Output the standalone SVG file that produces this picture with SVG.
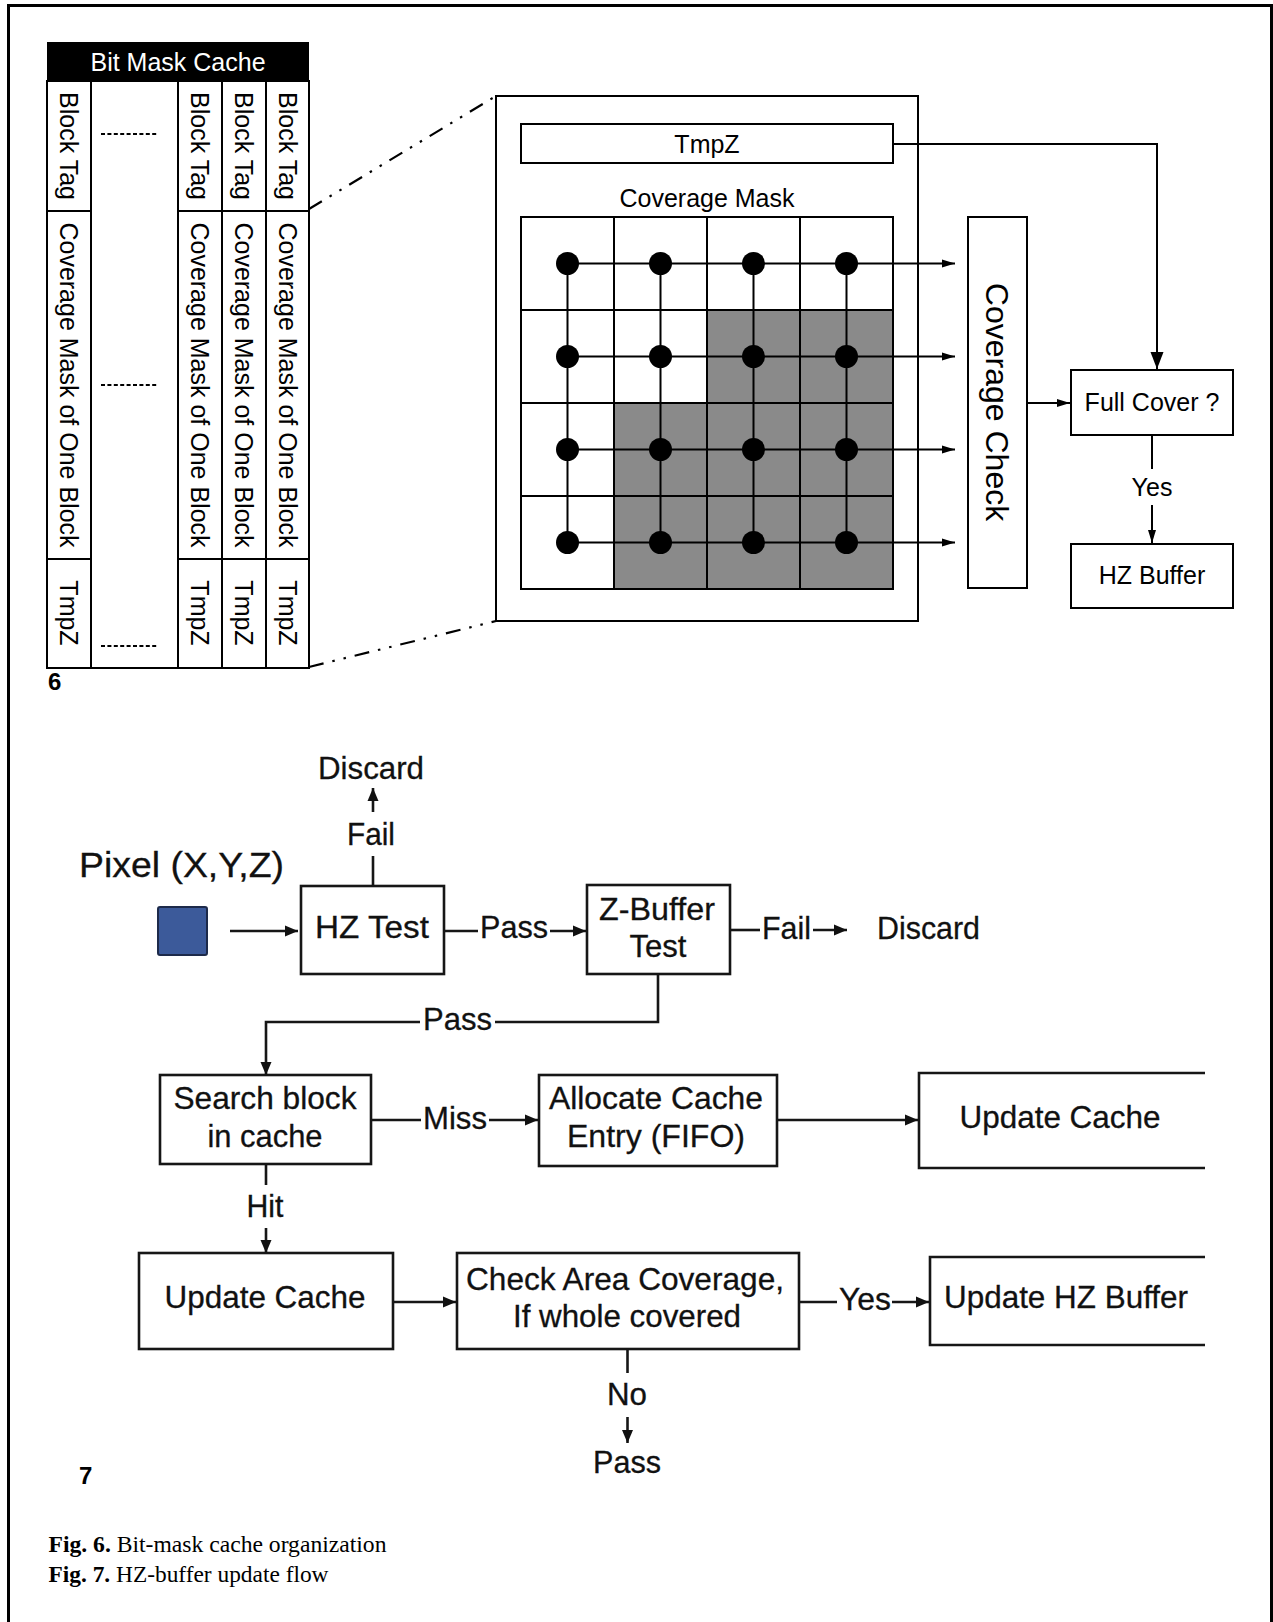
<svg xmlns="http://www.w3.org/2000/svg" width="1273" height="1622" viewBox="0 0 1273 1622">
<defs>
<marker id="ah" markerUnits="userSpaceOnUse" markerWidth="14" markerHeight="10" refX="13" refY="5" orient="auto"><path d="M0,1 L13,5 L0,9 Z" fill="#000"/></marker>
<marker id="ahL" markerUnits="userSpaceOnUse" markerWidth="18" markerHeight="14" refX="17" refY="7" orient="auto"><path d="M0,0.5 L17,7 L0,13.5 Z" fill="#000"/></marker>
<marker id="ah7" markerUnits="userSpaceOnUse" markerWidth="14" markerHeight="12" refX="13" refY="6" orient="auto"><path d="M0,0.5 L13,6 L0,11.5 Z" fill="#111"/></marker>
</defs>
<style>
.t{font-family:"Liberation Sans",Arial,sans-serif;fill:#000}
.f6{font-size:25px}
.v{font-size:25px;text-anchor:middle;dominant-baseline:central}
.m{text-anchor:middle}
.f7{font-family:"Liberation Sans",Arial,sans-serif;font-size:31.5px;fill:#111;stroke:#111;stroke-width:0.3}
.b{fill:#fff;stroke:#000;stroke-width:2}
.b7{fill:#fff;stroke:#161616;stroke-width:2.6}
.ln{fill:none;stroke:#000;stroke-width:2}
.l7{fill:none;stroke:#161616;stroke-width:2.6}
.dd{fill:none;stroke:#000;stroke-width:2.2;stroke-dasharray:15,9,2.5,9,2.5,9}
.dsh{stroke:#000;stroke-width:2;stroke-dasharray:4,2.4}
.cap{font-family:"Liberation Serif","Times New Roman",serif;font-size:24px;fill:#000}
</style>
<rect width="1273" height="1622" fill="#fff"/>
<path d="M8.5,1622 V5.5 H1271.5 V1622" fill="none" stroke="#000" stroke-width="3"/>

<!-- Fig 6: Bit mask cache table -->
<g id="bit-mask-cache">
<rect x="47" y="42" width="262" height="39" fill="#000"/>
<text class="t f6" x="178" y="71" text-anchor="middle" style="fill:#fff">Bit Mask Cache</text>
<rect class="b" x="47" y="81" width="262" height="587"/>
<path class="ln" d="M91,81 V668 M178,81 V668 M222,81 V668 M266,81 V668 M47,211 H91 M178,211 H309 M47,559 H91 M178,559 H309"/>
<line class="dsh" x1="101" y1="134" x2="158" y2="134"/>
<line class="dsh" x1="101" y1="385" x2="158" y2="385"/>
<line class="dsh" x1="101" y1="646" x2="158" y2="646"/>
<g class="t v">
<text transform="translate(69,146) rotate(90)">Block Tag</text>
<text transform="translate(200,146) rotate(90)">Block Tag</text>
<text transform="translate(244,146) rotate(90)">Block Tag</text>
<text transform="translate(287.5,146) rotate(90)">Block Tag</text>
<text transform="translate(69,385) rotate(90)">Coverage Mask of One Block</text>
<text transform="translate(200,385) rotate(90)">Coverage Mask of One Block</text>
<text transform="translate(244,385) rotate(90)">Coverage Mask of One Block</text>
<text transform="translate(287.5,385) rotate(90)">Coverage Mask of One Block</text>
<text transform="translate(69,613) rotate(90)">TmpZ</text>
<text transform="translate(200,613) rotate(90)">TmpZ</text>
<text transform="translate(244,613) rotate(90)">TmpZ</text>
<text transform="translate(287.5,613) rotate(90)">TmpZ</text>
</g>
<text class="t" x="48" y="690" style="font-size:24px;font-weight:bold">6</text>
</g>

<!-- Fig 6: block detail -->
<g id="block-detail">
<rect class="b" x="496" y="96" width="422" height="525"/>
</g>
<g id="tmpz">
<rect class="b" x="521" y="124" width="372" height="39"/>
<text class="t f6 m" x="707" y="153">TmpZ</text>
</g>
<g id="coverage-mask">
<text class="t f6 m" x="707" y="207">Coverage Mask</text>
<rect x="521" y="217" width="372" height="372" fill="#fff"/>
<rect x="707" y="310" width="186" height="93" fill="#8a8a8a"/>
<rect x="614" y="403" width="279" height="186" fill="#8a8a8a"/>
<path class="ln" d="M521,217 H893 V589 H521 Z M614,217 V589 M707,217 V589 M800,217 V589 M521,310 H893 M521,403 H893 M521,496 H893"/>
<path class="ln" d="M567.5,263.5 V542.5 M660.5,263.5 V542.5 M753.5,263.5 V542.5 M846.5,263.5 V542.5"/>
<g fill="#000">
<circle cx="567.5" cy="263.5" r="11.5"/><circle cx="660.5" cy="263.5" r="11.5"/><circle cx="753.5" cy="263.5" r="11.5"/><circle cx="846.5" cy="263.5" r="11.5"/>
<circle cx="567.5" cy="356.5" r="11.5"/><circle cx="660.5" cy="356.5" r="11.5"/><circle cx="753.5" cy="356.5" r="11.5"/><circle cx="846.5" cy="356.5" r="11.5"/>
<circle cx="567.5" cy="449.5" r="11.5"/><circle cx="660.5" cy="449.5" r="11.5"/><circle cx="753.5" cy="449.5" r="11.5"/><circle cx="846.5" cy="449.5" r="11.5"/>
<circle cx="567.5" cy="542.5" r="11.5"/><circle cx="660.5" cy="542.5" r="11.5"/><circle cx="753.5" cy="542.5" r="11.5"/><circle cx="846.5" cy="542.5" r="11.5"/>
</g>
</g>
<g id="coverage-check">
<rect class="b" x="968" y="217" width="59" height="371"/>
<text class="t m" transform="translate(997,402) rotate(90)" style="font-size:32px" dominant-baseline="central">Coverage Check</text>
</g>
<g id="full-cover">
<rect class="b" x="1071" y="370" width="162" height="65"/>
<text class="t f6 m" x="1152" y="411">Full Cover ?</text>
</g>
<g id="hz-buffer">
<rect class="b" x="1071" y="544" width="162" height="64"/>
<text class="t f6 m" x="1152" y="584">HZ Buffer</text>
</g>

<!-- Fig 6 connectors -->
<g id="connectors-fig6">
<path class="dd" d="M309,209 L496,96"/>
<path class="dd" d="M309,667 L496,621"/>
<path class="ln" d="M567.5,263.5 H955" marker-end="url(#ah)"/>
<path class="ln" d="M567.5,356.5 H955" marker-end="url(#ah)"/>
<path class="ln" d="M567.5,449.5 H955" marker-end="url(#ah)"/>
<path class="ln" d="M567.5,542.5 H955" marker-end="url(#ah)"/>
<path class="ln" d="M893,144 H1157 V369" marker-end="url(#ahL)"/>
<path class="ln" d="M1027,403 H1070" marker-end="url(#ah)"/>
<path class="ln" d="M1152,435 V469"/>
<text class="t m" x="1152" y="496" style="font-size:25px">Yes</text>
<path class="ln" d="M1152,505 V543" marker-end="url(#ah)"/>
</g>

<!-- Fig 7 nodes -->
<g id="pixel">
<text class="f7" x="79" y="877" style="font-size:35px" textLength="205" lengthAdjust="spacingAndGlyphs">Pixel (X,Y,Z)</text>
<rect x="158" y="907" width="49" height="48" rx="2" fill="#3c5a9a" stroke="#1d2a4a" stroke-width="2"/>
</g>
<g id="hz-test">
<rect class="b7" x="301" y="886" width="143" height="88"/>
<text class="f7 m" x="372" y="938" textLength="114" lengthAdjust="spacingAndGlyphs">HZ Test</text>
</g>
<g id="discard-top">
<text class="f7 m" x="371" y="779" textLength="106" lengthAdjust="spacingAndGlyphs">Discard</text>
</g>
<g id="z-buffer-test">
<rect class="b7" x="587" y="885" width="143" height="89"/>
<text class="f7 m" x="657" y="920" textLength="116" lengthAdjust="spacingAndGlyphs">Z-Buffer</text>
<text class="f7 m" x="658" y="957" textLength="57" lengthAdjust="spacingAndGlyphs">Test</text>
</g>
<g id="discard-right">
<text class="f7" x="877" y="939" textLength="103" lengthAdjust="spacingAndGlyphs">Discard</text>
</g>
<g id="search-block">
<rect class="b7" x="160" y="1075" width="211" height="89"/>
<text class="f7 m" x="265" y="1109" textLength="183" lengthAdjust="spacingAndGlyphs">Search block</text>
<text class="f7 m" x="265" y="1147" textLength="115" lengthAdjust="spacingAndGlyphs">in cache</text>
</g>
<g id="allocate-cache">
<rect class="b7" x="539" y="1075" width="238" height="91"/>
<text class="f7 m" x="656" y="1109" textLength="214" lengthAdjust="spacingAndGlyphs">Allocate Cache</text>
<text class="f7 m" x="656" y="1147" textLength="178" lengthAdjust="spacingAndGlyphs">Entry (FIFO)</text>
</g>
<g id="update-cache-top">
<path class="l7" d="M1205,1073 H919 V1168 H1205"/>
<text class="f7 m" x="1060" y="1128" textLength="201" lengthAdjust="spacingAndGlyphs">Update Cache</text>
</g>
<g id="update-cache-bottom">
<rect class="b7" x="139" y="1253" width="254" height="96"/>
<text class="f7 m" x="265" y="1308" textLength="201" lengthAdjust="spacingAndGlyphs">Update Cache</text>
</g>
<g id="check-area">
<rect class="b7" x="457" y="1253" width="342" height="96"/>
<text class="f7 m" x="625" y="1290" textLength="318" lengthAdjust="spacingAndGlyphs">Check Area Coverage,</text>
<text class="f7 m" x="627" y="1327" textLength="228" lengthAdjust="spacingAndGlyphs">If whole covered</text>
</g>
<g id="update-hz-buffer">
<path class="l7" d="M1205,1257 H930 V1345 H1205"/>
<text class="f7 m" x="1066" y="1308" textLength="244" lengthAdjust="spacingAndGlyphs">Update HZ Buffer</text>
</g>
<g id="pass-bottom">
<text class="f7 m" x="627" y="1473" textLength="68" lengthAdjust="spacingAndGlyphs">Pass</text>
</g>
<text class="t" x="79" y="1484" style="font-size:24px;font-weight:bold">7</text>

<!-- Fig 7 connectors -->
<g id="connectors-fig7">
<path class="l7" d="M230,931 H298" marker-end="url(#ah7)"/>
<path class="l7" d="M373,886 V856"/>
<text class="f7 m" x="371" y="845" textLength="48" lengthAdjust="spacingAndGlyphs">Fail</text>
<path class="l7" d="M373,812 V788" marker-end="url(#ah7)"/>
<path class="l7" d="M444,931 H478"/>
<text class="f7 m" x="514" y="938" textLength="68" lengthAdjust="spacingAndGlyphs">Pass</text>
<path class="l7" d="M550,931 H586" marker-end="url(#ah7)"/>
<path class="l7" d="M730,930 H760"/>
<text class="f7 m" x="786.5" y="939" textLength="49" lengthAdjust="spacingAndGlyphs">Fail</text>
<path class="l7" d="M813,930 H847" marker-end="url(#ah7)"/>
<path class="l7" d="M658,974 V1022 H495"/>
<text class="f7 m" x="457.5" y="1030" textLength="69" lengthAdjust="spacingAndGlyphs">Pass</text>
<path class="l7" d="M420,1022 H266 V1075" marker-end="url(#ah7)"/>
<path class="l7" d="M371,1120 H421"/>
<text class="f7 m" x="455" y="1129" textLength="64" lengthAdjust="spacingAndGlyphs">Miss</text>
<path class="l7" d="M489,1120 H538" marker-end="url(#ah7)"/>
<path class="l7" d="M777,1120 H918" marker-end="url(#ah7)"/>
<path class="l7" d="M266,1164 V1185"/>
<text class="f7 m" x="265" y="1217" textLength="37" lengthAdjust="spacingAndGlyphs">Hit</text>
<path class="l7" d="M266,1228 V1253" marker-end="url(#ah7)"/>
<path class="l7" d="M393,1302 H456" marker-end="url(#ah7)"/>
<path class="l7" d="M799,1302 H837"/>
<text class="f7 m" x="865" y="1310" textLength="52" lengthAdjust="spacingAndGlyphs">Yes</text>
<path class="l7" d="M892,1302 H929" marker-end="url(#ah7)"/>
<path class="l7" d="M627.5,1349 V1373"/>
<text class="f7 m" x="627" y="1405" textLength="40" lengthAdjust="spacingAndGlyphs">No</text>
<path class="l7" d="M627.5,1417 V1443" marker-end="url(#ah7)"/>
</g>

<!-- Captions -->
<text class="cap" x="48.5" y="1552" textLength="338" lengthAdjust="spacingAndGlyphs"><tspan font-weight="bold">Fig. 6.</tspan> Bit-mask cache organization</text>
<text class="cap" x="48.5" y="1582" textLength="280" lengthAdjust="spacingAndGlyphs"><tspan font-weight="bold">Fig. 7.</tspan> HZ-buffer update flow</text>
</svg>
